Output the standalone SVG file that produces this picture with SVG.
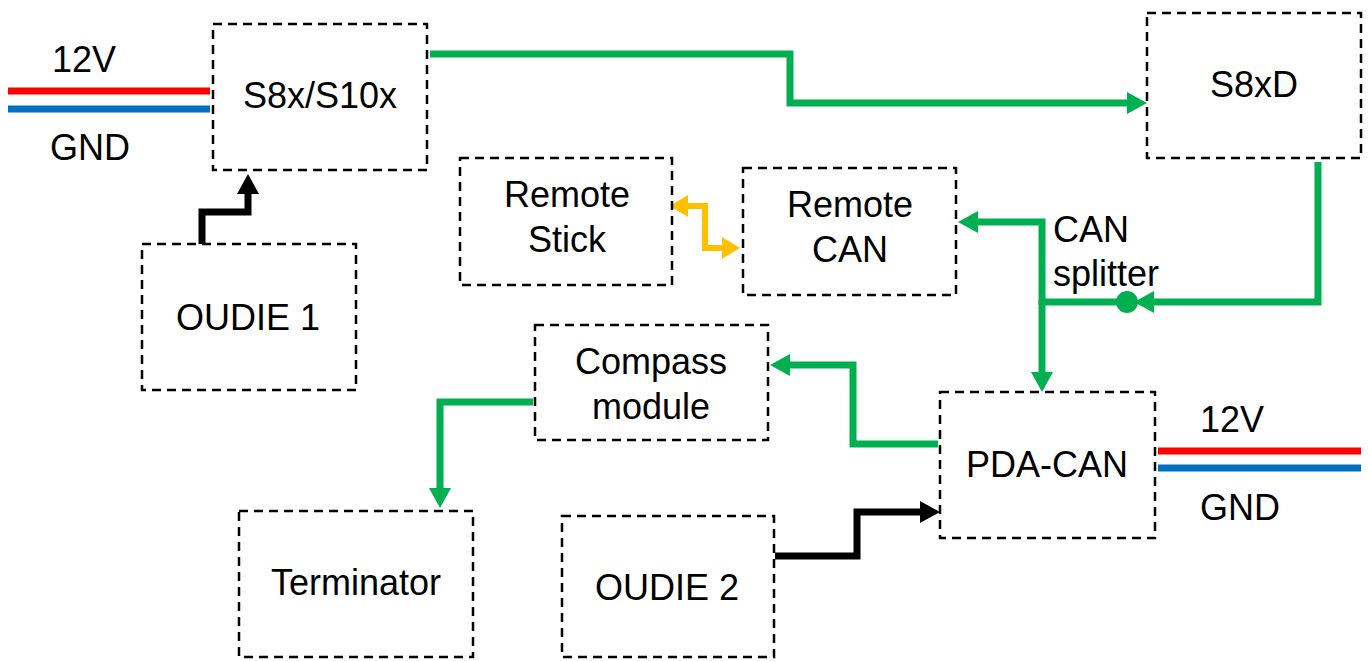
<svg xmlns="http://www.w3.org/2000/svg" width="1368" height="661" viewBox="0 0 1368 661">
<style>
.box{fill:#fff;stroke:#000;stroke-width:2.5;stroke-dasharray:9 6}
text{font-family:"Liberation Sans",Arial,sans-serif;font-size:36px;fill:#000}
.c{text-anchor:middle}
.g{fill:none;stroke:#00B050;stroke-width:7}
.k{fill:none;stroke:#000;stroke-width:7}
.y{fill:none;stroke:#FFC000;stroke-width:6}
.red{stroke:#FF0000;stroke-width:7}
.blue{stroke:#0070C0;stroke-width:7}
</style>
<defs>
<marker id="ag" markerUnits="userSpaceOnUse" viewBox="0 0 20 22" refX="0" refY="11" markerWidth="20" markerHeight="22" orient="auto"><path d="M0,0 L20,11 L0,22 Z" fill="#00B050"/></marker>
<marker id="ak" markerUnits="userSpaceOnUse" viewBox="0 0 20 22" refX="0" refY="11" markerWidth="20" markerHeight="22" orient="auto"><path d="M0,0 L20,11 L0,22 Z" fill="#000"/></marker>
<marker id="ay" markerUnits="userSpaceOnUse" viewBox="0 0 18 22" refX="0" refY="11" markerWidth="18" markerHeight="22" orient="auto-start-reverse"><path d="M0,0 L18,11 L0,22 Z" fill="#FFC000"/></marker>
</defs>
<g id="power-left">
<line class="red" x1="8" y1="91" x2="210" y2="91"/>
<line class="blue" x1="8" y1="109" x2="210" y2="109"/>
<text class="c" x="84" y="72">12V</text>
<text class="c" x="90" y="160">GND</text>
</g>
<g id="power-right">
<line class="red" x1="1158" y1="451" x2="1361" y2="451"/>
<line class="blue" x1="1158" y1="468" x2="1361" y2="468"/>
<text class="c" x="1232" y="432">12V</text>
<text class="c" x="1240" y="520">GND</text>
</g>
<g id="connectors">
<path class="g" d="M430,54 H790 V103 H1127" marker-end="url(#ag)"/>
<path class="g" d="M1318,162 V302 H1154" marker-end="url(#ag)"/>
<path class="g" d="M1042,302 H1130"/>
<circle cx="1127" cy="302" r="11" fill="#00B050"/>
<path class="g" d="M1042,305 V222 H978" marker-end="url(#ag)"/>
<path class="g" d="M1042,300 V372" marker-end="url(#ag)"/>
<path class="y" d="M688,206 H705 V248 H722" marker-start="url(#ay)" marker-end="url(#ay)"/>
<path class="k" d="M202,248 V212 H248 V194" marker-end="url(#ak)"/>
<path class="g" d="M938,444 H853 V365 H790" marker-end="url(#ag)"/>
<path class="g" d="M533,402 H440 V488" marker-end="url(#ag)"/>
<path class="k" d="M775,556 H857 V512 H920" marker-end="url(#ak)"/>
<text x="1053" y="242">CAN</text>
<text x="1053" y="286">splitter</text>
</g>
<g id="s8x"><rect class="box" x="213" y="24" width="214" height="146"/><text class="c" x="320" y="108">S8x/S10x</text></g>
<g id="s8xd"><rect class="box" x="1147" y="13" width="214" height="145"/><text class="c" x="1254" y="97">S8xD</text></g>
<g id="remote-stick"><rect class="box" x="460" y="158" width="212" height="127"/><text class="c" x="567" y="207">Remote</text><text class="c" x="567" y="252">Stick</text></g>
<g id="remote-can"><rect class="box" x="743" y="168" width="213" height="127"/><text class="c" x="850" y="217">Remote</text><text class="c" x="850" y="262">CAN</text></g>
<g id="oudie1"><rect class="box" x="142" y="244" width="214" height="146"/><text class="c" x="248" y="330">OUDIE 1</text></g>
<g id="compass"><rect class="box" x="535" y="325" width="233" height="115"/><text class="c" x="651" y="374">Compass</text><text class="c" x="651" y="419">module</text></g>
<g id="pda-can"><rect class="box" x="940" y="392" width="215" height="146"/><text class="c" x="1047" y="477">PDA-CAN</text></g>
<g id="terminator"><rect class="box" x="239" y="511" width="234" height="146"/><text class="c" x="356" y="595">Terminator</text></g>
<g id="oudie2"><rect class="box" x="562" y="516" width="212" height="141"/><text class="c" x="667" y="600">OUDIE 2</text></g>
</svg>
